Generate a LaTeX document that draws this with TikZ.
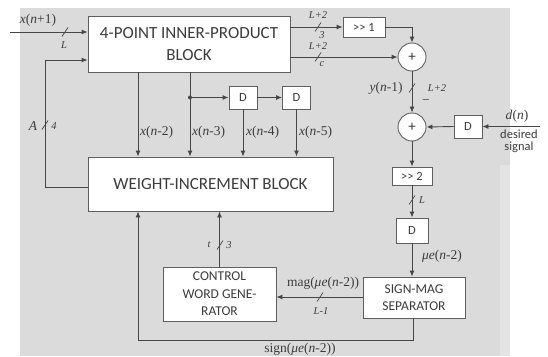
\documentclass[tikz,border=0pt]{standalone}
\usepackage{fontspec}
\setmainfont{Carlito}
\newfontfamily\lserif{Liberation Serif}
\usetikzlibrary{arrows.meta,calc}
\definecolor{bg}{RGB}{219,219,219}
\definecolor{bgl}{RGB}{228,228,228}
\definecolor{lc}{RGB}{70,70,70}
\definecolor{bc}{RGB}{95,95,95}
\definecolor{tc}{RGB}{60,60,60}
\newcommand\vi[1]{\textit{#1}}
\begin{document}
\begin{tikzpicture}[x=1pt,y=-1pt,
  line/.style={draw=lc, line width=0.9pt},
  arr/.style={line, -{Latex[length=6pt,width=5pt]}},
  blk/.style={draw=bc, fill=white, line width=0.9pt, inner sep=0pt, align=center, text=tc},
  bigtxt/.style={font=\fontsize{17}{22}\selectfont},
  medtxt/.style={font=\fontsize{13.5}{17.5}\selectfont},
  dtxt/.style={font=\fontsize{12.5}{14}\selectfont},
  lbl/.style={font=\lserif\fontsize{13.5}{15}\selectfont, inner sep=1pt, text=tc},
  smal/.style={font=\lserif\itshape\fontsize{10.5}{12}\selectfont, inner sep=1pt, text=tc},
  sumnode/.style={circle, draw=bc, fill=white, line width=0.9pt, minimum size=28pt, inner sep=0pt, text=tc, font=\fontsize{15}{15}\selectfont},
  slash/.style={draw=lc, line width=0.7pt}
]
\useasboundingbox (0,0) rectangle (548,356);
\fill[bg] (20,8) rectangle (510,356);
\fill[bgl] (500,165) rectangle (510,356);

% blocks
\node[blk, bigtxt, minimum width=202, minimum height=56] (ip) at (189,44) {4-POINT INNER-PRODUCT\\BLOCK};
\node[blk, bigtxt, minimum width=245, minimum height=54] (wi) at (210.5,184) {WEIGHT-INCREMENT BLOCK};
\node[blk, medtxt, minimum width=113, minimum height=54] (cw) at (219.5,294) {CONTROL\\WORD GENE-\\RATOR};
\node[blk, medtxt, minimum width=102, minimum height=41] (sm) at (414,297.5) {SIGN-MAG\\SEPARATOR};
\node[blk, dtxt, minimum width=28, minimum height=23] (d1) at (243,97.5) {D};
\node[blk, dtxt, minimum width=28, minimum height=23] (d2) at (296.5,97.5) {D};
\node[blk, dtxt, minimum width=28, minimum height=23] (d3) at (468,126.5) {D};
\node[blk, dtxt, minimum width=32, minimum height=25] (d4) at (412,230.5) {D};
\node[blk, dtxt, minimum width=42, minimum height=20] (s1) at (364,27) {>{}> 1};
\node[blk, dtxt, minimum width=40, minimum height=18] (s2) at (412,176) {>{}> 2};
\node[sumnode] (a1) at (412,57) {+};
\node[sumnode] (a2) at (412,127) {+};

% coordinates
\coordinate (xin) at (10,32);
\coordinate (fbA) at (45,187);
\coordinate (fbB) at (45,60);
\coordinate (r1) at (0,27);
\coordinate (din) at (540,126.5);
\coordinate (b1) at (413,340);
\coordinate (b2) at (138,340);
\coordinate (mg) at (0,297);
\coordinate (c2) at (138,0);
\coordinate (c3) at (190,0);
\coordinate (dot) at (190,97.5);

% connectors
\draw[arr] (xin) -- (xin -| ip.west);
\draw[arr] (wi.west |- fbA) -- (fbA) -- (fbB) -- (ip.west |- fbB);
\draw[arr] (ip.east |- r1) -- (s1.west);
\draw[arr] (ip.east |- a1) -- (a1.west);
\draw[arr] (s1.east) -| (a1.north);
\draw[arr] (a1.south) -- (a2.north);
\draw[arr] (din) -- (d3.east);
\draw[arr] (d3.west) -- (a2.east);
\draw[arr] (a2.south) -- (s2.north);
\draw[arr] (s2.south) -- (d4.north);
\draw[arr] (d4.south) -- (d4.south |- sm.north);
\draw[arr] (sm.south -| b1) -- (b1) -- (b2) -- (b2 |- wi.south);
\draw[arr] (sm.west |- mg) -- (cw.east |- mg);
\draw[arr] (cw.north) -- (cw.north |- wi.south);
\draw[arr] (ip.south -| c2) -- (wi.north -| c2);
\draw[arr] (ip.south -| c3) -- (wi.north -| c3);
\fill[lc] (dot) circle (2pt);
\draw[arr] (dot) -- (d1.west);
\draw[arr] (d1.east) -- (d2.west);
\draw[arr] (d1.south) -- (d1.south |- wi.north);
\draw[arr] (d2.south) -- (d2.south |- wi.north);

% slashes
\foreach \p in {(65,32),(45,125),(318,27),(318,57),(412,88),(412,200),(320,297),(220,245)}{
  \draw[slash] \p ++(-3,4.5) -- ++(6,-9);
}

% labels
\node[lbl] (lxin) at (38,20) {\vi{x}(\vi{n}+1)};
\node[smal] (lL1) at (64,45) {L};
\node[lbl] (lA) at (33,126) {\vi{A}};
\node[smal] (l4) at (54,126) {4};
\node[smal] (lo1a) at (318,15) {L+2};
\node[smal] (lo1b) at (322,35) {3};
\node[smal] (lo2a) at (318,46) {L+2};
\node[smal] (lo2b) at (322,64) {c};
\node[lbl] (ly) at (386,88) {\vi{y}(\vi{n}-1)};
\node[smal] (lyw) at (437,88) {L+2};
\node[lbl] (lminus) at (426,102) {−};
\node[lbl] (ldn) at (517,116) {\vi{d}(\vi{n})};
\node[font=\fontsize{12.5}{12}\selectfont, text=tc, inner sep=0pt] (lds1) at (519,134) {desired};
\node[font=\fontsize{12.5}{12}\selectfont, text=tc, inner sep=0pt] (lds2) at (519,147) {signal};
\node[smal] (lL2) at (422,200) {L};
\node[lbl] (lmu) at (442,256) {\vi{μe}(\vi{n}-2)};
\node[lbl] (lmag) at (323,283) {mag(\vi{μe}(\vi{n}-2))};
\node[smal] (lL3) at (321,311) {L-1};
\node[smal] (lt) at (209,245) {t};
\node[smal] (l3) at (229,245) {3};
\node[lbl] (lsign) at (300,349) {sign(\vi{μe}(\vi{n}-2))};
\node[lbl, anchor=west] (lx2) at (139,132) {\vi{x}(\vi{n}-2)};
\node[lbl, anchor=west] (lx3) at (191,132) {\vi{x}(\vi{n}-3)};
\node[lbl, anchor=west] (lx4) at (245,132) {\vi{x}(\vi{n}-4)};
\node[lbl, anchor=west] (lx5) at (298,132) {\vi{x}(\vi{n}-5)};
\end{tikzpicture}
\end{document}
